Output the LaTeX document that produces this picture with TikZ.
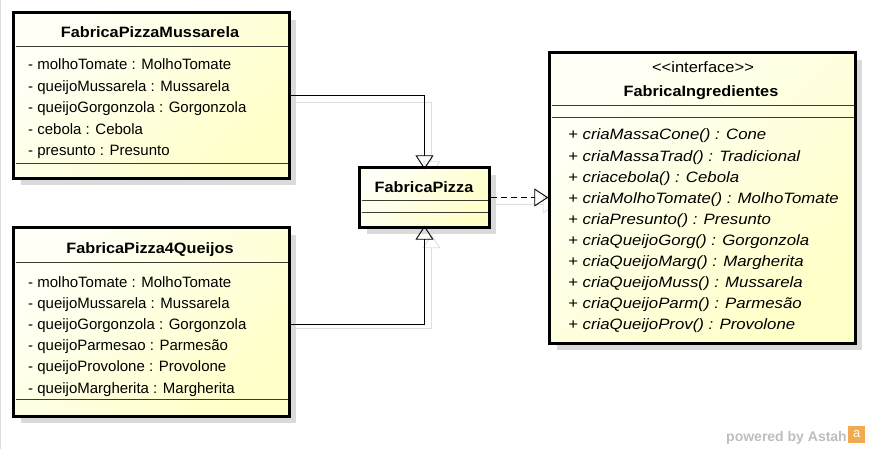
\documentclass[tikz,border=0pt]{standalone}
\usepackage{fontspec}
\setmainfont{Liberation Sans}
\newfontfamily\boldwide[FakeStretch=1.085]{Liberation Sans}
\newfontfamily\itwide[FakeStretch=1.12]{Liberation Sans}
\newfontfamily\stereowide[FakeStretch=1.1]{Liberation Sans}
\usetikzlibrary{arrows.meta}
\definecolor{boxlight}{RGB}{255,255,246}
\definecolor{boxdark}{RGB}{255,255,200}
\definecolor{shadowgray}{RGB}{218,218,218}
\definecolor{connshadow}{RGB}{222,222,222}
\definecolor{sepgray}{RGB}{60,60,50}
\definecolor{wmgray}{RGB}{190,190,190}
\definecolor{astahorange}{RGB}{242,170,80}
\tikzset{
  classbox/.style={draw=black, line width=3pt, rectangle, inner sep=0pt,
    top color=boxlight, bottom color=boxdark, shading angle=45},
  boxshadow/.style={fill=shadowgray, draw=none},
  sepline/.style={draw=sepgray, line width=0.9pt},
  titletxt/.style={font=\boldwide\fontsize{15}{18}\selectfont\bfseries, anchor=base, inner sep=0pt},
  attrtxt/.style={font=\fontsize{15}{18}\selectfont, anchor=base west, inner sep=0pt},
  methtxt/.style={font=\itwide\fontsize{15}{18}\selectfont\itshape, anchor=base west, inner sep=0pt},
  stereotxt/.style={font=\stereowide\fontsize{15}{18}\selectfont, anchor=base, inner sep=0pt},
  gen/.style={draw=black, line width=0.9pt, -{Triangle[open, length=14pt, width=18pt, line width=0.9pt]}},
  real/.style={draw=black, line width=0.9pt, dash pattern=on 6pt off 4pt,
    -{Triangle[open, length=14pt, width=18pt, line width=0.9pt]}},
  genshadow/.style={draw=connshadow, line width=0.9pt, -{Triangle[open, length=14pt, width=18pt, line width=0.9pt]}},
}
\begin{document}
\begin{tikzpicture}[x=1pt, y=-1pt]
\useasboundingbox (0,0) rectangle (869,449);
% canvas left frame line
\draw[draw=connshadow, line width=1.2pt] (0.6,0) -- (0.6,449);

% box nodes (placed invisibly first for naming)
\node[minimum width=275pt, minimum height=165pt, inner sep=0pt] (A) at (151.5,95.5) {};
\node[minimum width=275pt, minimum height=188pt, inner sep=0pt] (B) at (151.5,322) {};
\node[minimum width=129pt, minimum height=59pt, inner sep=0pt] (FP) at (424.5,197.5) {};
\node[minimum width=305pt, minimum height=290pt, inner sep=0pt] (I) at (702.5,198) {};

% connector shadows
\draw[genshadow] ([shift={(7,7)}]A.east) -| ([shift={(7,7)}]FP.north);
\draw[genshadow] ([shift={(7,6)}]B.east) -| ([shift={(7,7)}]FP.south);
\draw[genshadow] ([shift={(7,7)}]FP.east) -- ([shift={(7,7)}]FP.east -| I.west);

% box shadows
\fill[boxshadow] ([shift={(7,7)}]A.north west) rectangle ([shift={(7,7)}]A.south east);
\fill[boxshadow] ([shift={(7,7)}]B.north west) rectangle ([shift={(7,7)}]B.south east);
\fill[boxshadow] ([shift={(7,7)}]FP.north west) rectangle ([shift={(7,7)}]FP.south east);
\fill[boxshadow] ([shift={(7,7)}]I.north west) rectangle ([shift={(7,7)}]I.south east);

% boxes
\shade[classbox] (A.north west) rectangle (A.south east);
\shade[classbox] (B.north west) rectangle (B.south east);
\shade[classbox] (FP.north west) rectangle (FP.south east);
\shade[classbox] (I.north west) rectangle (I.south east);

% separators
\draw[sepline] (15.5,46) -- (287.5,46);
\draw[sepline] (15.5,163) -- (287.5,163);
\draw[sepline] (15.5,262) -- (287.5,262);
\draw[sepline] (15.5,399) -- (287.5,399);
\draw[sepline] (361.5,200) -- (487.5,200);
\draw[sepline] (361.5,212) -- (487.5,212);
\draw[sepline] (551.5,105) -- (853.5,105);
\draw[sepline] (551.5,117) -- (853.5,117);

% FabricaPizzaMussarela
\node[titletxt] (at) at (150,37.5) {FabricaPizzaMussarela};
\node[attrtxt] (a_1) at (28,70) {- molhoTomate : MolhoTomate};
\node[attrtxt] (a_2) at (28,91.4) {- queijoMussarela : Mussarela};
\node[attrtxt] (a_3) at (28,112.8) {- queijoGorgonzola : Gorgonzola};
\node[attrtxt] (a_4) at (28,134.2) {- cebola : Cebola};
\node[attrtxt] (a_5) at (28,155.6) {- presunto : Presunto};

% FabricaPizza4Queijos
\node[titletxt] (bt) at (150,253) {FabricaPizza4Queijos};
\node[attrtxt] (b_1) at (28,287) {- molhoTomate : MolhoTomate};
\node[attrtxt] (b_2) at (28,308.2) {- queijoMussarela : Mussarela};
\node[attrtxt] (b_3) at (28,329.4) {- queijoGorgonzola : Gorgonzola};
\node[attrtxt] (b_4) at (28,350.6) {- queijoParmesao : Parmesão};
\node[attrtxt] (b_5) at (28,371.8) {- queijoProvolone : Provolone};
\node[attrtxt] (b_6) at (28,393) {- queijoMargherita : Margherita};

% FabricaPizza
\node[titletxt] (ft) at (424,192) {FabricaPizza};

% FabricaIngredientes
\node[stereotxt] (is) at (703,73) {<{}<interface>{}>};
\node[titletxt] (it) at (701,96.7) {FabricaIngredientes};
\node[methtxt] (m1) at (568,140) {+ criaMassaCone() : Cone};
\node[methtxt] (m2) at (568,161.1) {+ criaMassaTrad() : Tradicional};
\node[methtxt] (m3) at (568,182.2) {+ criacebola() : Cebola};
\node[methtxt] (m4) at (568,203.3) {+ criaMolhoTomate() : MolhoTomate};
\node[methtxt] (m5) at (568,224.4) {+ criaPresunto() : Presunto};
\node[methtxt] (m6) at (568,245.5) {+ criaQueijoGorg() : Gorgonzola};
\node[methtxt] (m7) at (568,266.6) {+ criaQueijoMarg() : Margherita};
\node[methtxt] (m8) at (568,287.7) {+ criaQueijoMuss() : Mussarela};
\node[methtxt] (m9) at (568,308.8) {+ criaQueijoParm() : Parmesão};
\node[methtxt] (m10) at (568,329.9) {+ criaQueijoProv() : Provolone};

% connectors
\draw[gen] (A.east) -| ([yshift=-1.5pt]FP.north);
\draw[gen] ([yshift=-2pt]B.east) -| ([yshift=1.5pt]FP.south);
\draw[real] ([xshift=1.5pt]FP.east) -- ([xshift=-1.5pt]FP.east -| I.west);

% watermark
\node[font=\fontsize{14}{16}\selectfont\bfseries, text=wmgray, anchor=base east, inner sep=0pt] (wm) at (847,441) {powered by Astah};
\node[fill=astahorange, minimum width=17pt, minimum height=17pt, inner sep=0pt, anchor=west,
  font=\fontsize{13}{13}\selectfont, text=white] (logo) at (848,434.5) {a};
\end{tikzpicture}
\end{document}
